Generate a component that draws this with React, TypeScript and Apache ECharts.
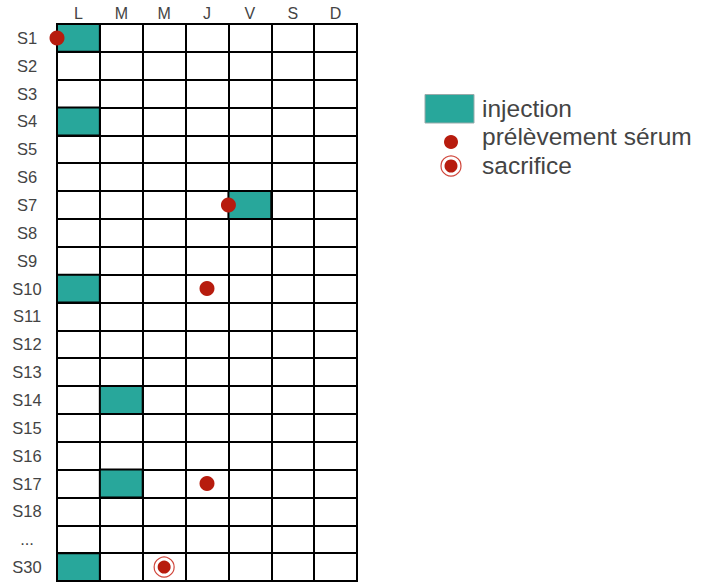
import React, { useEffect, useRef } from "react";
import * as echarts from "echarts";

const days = ["L", "M", "M", "J", "V", "S", "D"];
const weeks = [
  "S1", "S2", "S3", "S4", "S5", "S6", "S7", "S8", "S9", "S10",
  "S11", "S12", "S13", "S14", "S15", "S16", "S17", "S18", "...", "S30",
];
// [day index, week index]
const injections = [
  [0, 0], [0, 3], [4, 6], [0, 9], [1, 13], [1, 16], [0, 19],
];
// [day index, week index, offset within day (-0.5 = start of day, 0 = middle)]
const serumSamples = [
  [0, 0, -0.5], [4, 6, -0.5], [3, 9, 0], [3, 16, 0],
];
const sacrifices = [[2, 19, 0]];

const legendLabels = ["injection", "prélèvement sérum", "sacrifice"];

const TEAL = "#28A79B";
const RED = "#B71C0E";
const TEXT = "#444444";

export default function App() {
  const ref = useRef<HTMLDivElement>(null);
  useEffect(() => {
    if (!ref.current) return;
    const chart = echarts.init(ref.current, null, { renderer: "svg" });
    const font = "'Liberation Sans', Arial, sans-serif";
    const legendText = (text: string, y: number) => ({
      type: "text",
      x: 482,
      y,
      style: { text, fill: TEXT, font: `24.5px ${font}`, lineHeight: 24, verticalAlign: "middle" },
    });
    chart.setOption({
      animation: false,
      grid: {
        left: 57,
        top: 24,
        width: 300,
        height: 557,
        show: true,
        borderColor: "#000",
        borderWidth: 2,
        backgroundColor: "#fff",
      },
      xAxis: {
        type: "category",
        position: "top",
        data: days,
        boundaryGap: true,
        axisLine: { show: false },
        axisTick: { show: false },
        axisLabel: { interval: 0, color: TEXT, fontSize: 16, fontFamily: font, margin: 3, lineHeight: 16 },
        splitLine: { show: true, interval: 0, lineStyle: { color: "#000", width: 2 } },
      },
      yAxis: {
        type: "category",
        inverse: true,
        data: weeks,
        boundaryGap: true,
        axisLine: { show: false },
        axisTick: { show: false },
        axisLabel: {
          interval: 0, color: TEXT, fontSize: 16.5, fontFamily: font, margin: 30, align: "center",
          padding: [6, 0, 0, 0],
        },
        splitLine: { show: true, interval: 0, lineStyle: { color: "#000", width: 2 } },
      },
      series: [
        {
          name: legendLabels[0],
          type: "custom",
          clip: false,
          data: injections,
          renderItem: (params: any, api: any) => {
            const c = api.coord([api.value(0), api.value(1)]);
            const s = api.size([1, 1]);
            return {
              type: "rect",
              shape: { x: c[0] - s[0] / 2, y: c[1] - s[1] / 2, width: s[0], height: s[1] },
              style: { fill: TEAL, stroke: "#000", lineWidth: 2 },
            };
          },
          z: 3,
        },
        {
          name: legendLabels[1],
          type: "custom",
          clip: false,
          data: serumSamples,
          renderItem: (params: any, api: any) => {
            const c = api.coord([api.value(0), api.value(1)]);
            const s = api.size([1, 1]);
            return {
              type: "circle",
              shape: { cx: c[0] + api.value(2) * s[0], cy: c[1], r: 7.5 },
              style: { fill: RED },
            };
          },
          z: 4,
        },
        {
          name: legendLabels[2],
          type: "custom",
          clip: false,
          data: sacrifices,
          renderItem: (params: any, api: any) => {
            const c = api.coord([api.value(0), api.value(1)]);
            const s = api.size([1, 1]);
            const cx = c[0] + api.value(2) * s[0];
            return {
              type: "group",
              children: [
                { type: "circle", shape: { cx, cy: c[1], r: 10 }, style: { fill: "none", stroke: "#D0453A", lineWidth: 1.2 } },
                { type: "circle", shape: { cx, cy: c[1], r: 6.5 }, style: { fill: RED } },
              ],
            };
          },
          z: 4,
        },
      ],
      graphic: [
        { type: "rect", shape: { x: 425, y: 94.5, width: 49, height: 28.5 }, style: { fill: TEAL, stroke: "#9aa", lineWidth: 1 } },
        legendText(legendLabels[0], 108.3),
        { type: "circle", shape: { cx: 451, cy: 142, r: 7 }, style: { fill: RED } },
        legendText(legendLabels[1], 136.8),
        { type: "circle", shape: { cx: 451, cy: 166, r: 10 }, style: { fill: "none", stroke: "#D0453A", lineWidth: 1.2 } },
        { type: "circle", shape: { cx: 451, cy: 166, r: 6.5 }, style: { fill: RED } },
        legendText(legendLabels[2], 165.3),
      ],
    });
    return () => chart.dispose();
  }, []);
  return (
    <div
      ref={ref}
      style={{ position: "fixed", left: 0, top: 0, width: 701, height: 583, background: "#fff" }}
    />
  );
}
